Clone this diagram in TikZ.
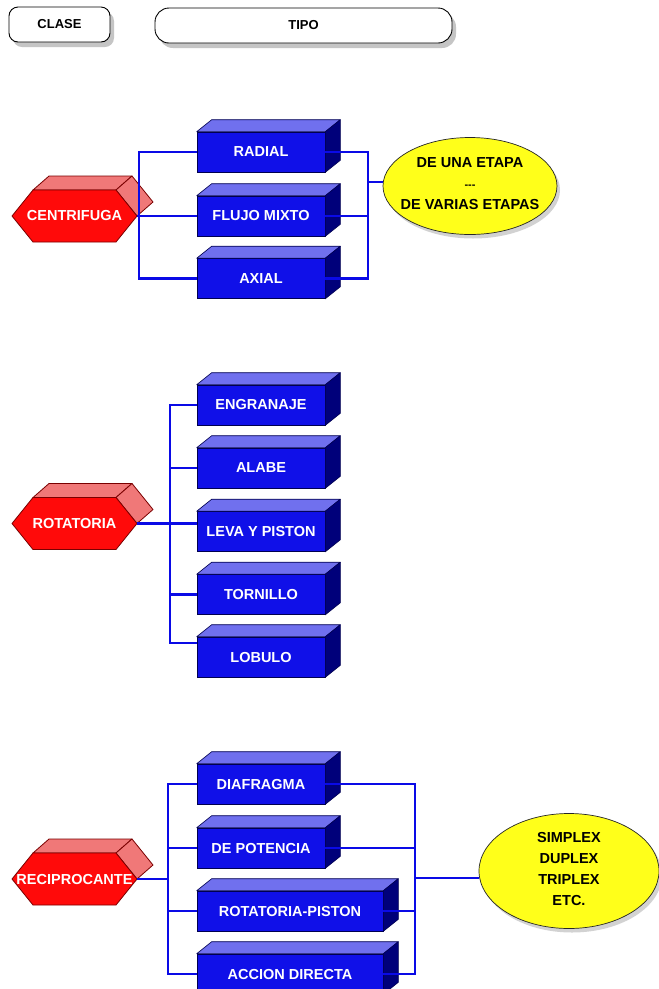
\documentclass[tikz,border=0pt]{standalone}
\usepackage{fontspec}
\setmainfont{Liberation Sans}
\usetikzlibrary{calc,shapes.geometric,shadows}
\definecolor{boxfront}{HTML}{1010E8}
\definecolor{boxtop}{HTML}{7070EE}
\definecolor{boxside}{HTML}{00007A}
\definecolor{boxline}{HTML}{000050}
\definecolor{hexfrontc}{HTML}{FF0A0A}
\definecolor{hexlight}{HTML}{F07878}
\definecolor{hexline}{HTML}{7A0000}
\definecolor{linkblue}{HTML}{0A0AE6}
\definecolor{ellfill}{HTML}{FFFF1A}
\newcommand\threedbox[1]{%
  \filldraw[boxtopface] (#1.north west) -- ($(#1.north west)+(15,-12)$) -- ($(#1.north east)+(15,-12)$) -- (#1.north east) -- cycle;
  \filldraw[boxsideface] (#1.north east) -- ($(#1.north east)+(15,-12)$) -- ($(#1.south east)+(15,-12)$) -- (#1.south east) -- cycle;}
\newcommand\redhex[3]{%
  \coordinate (#1-c) at (#2);
  \filldraw[hexface] ($(#1-c)+(-41.5,-26)$) -- ($(#1-c)+(-25.5,-40)$) -- ($(#1-c)+(57.5,-40)$) -- ($(#1-c)+(41.5,-26)$) -- cycle;
  \filldraw[hexface] ($(#1-c)+(41.5,-26)$) -- ($(#1-c)+(57.5,-40)$) -- ($(#1-c)+(78.5,-14)$) -- ($(#1-c)+(62.5,0)$) -- cycle;
  \filldraw[hexfront] ($(#1-c)+(-62.5,0)$) -- ($(#1-c)+(-41.5,-26)$) -- ($(#1-c)+(41.5,-26)$) -- ($(#1-c)+(62.5,0)$) -- ($(#1-c)+(41.5,26)$) -- ($(#1-c)+(-41.5,26)$) -- cycle;
  \node[hextext] (#1) at (#1-c) {#3};
  \coordinate (#1-e) at ($(#1-c)+(62.5,0)$);}
\tikzset{
  bluebox/.style={rectangle, fill=boxfront, draw=boxline, line width=0.6pt, text=white,
    font=\fontsize{14.5}{17}\selectfont\bfseries, minimum width=128pt, minimum height=40pt, inner sep=0pt},
  widebox/.style={bluebox, minimum width=186pt},
  boxtopface/.style={fill=boxtop, draw=boxline, line width=0.6pt, line join=round},
  boxsideface/.style={fill=boxside, draw=boxline, line width=0.6pt, line join=round},
  hexface/.style={fill=hexlight, draw=hexline, line width=0.8pt, line join=round},
  hexfront/.style={fill=hexfrontc, draw=hexline, line width=0.8pt, line join=round},
  hextext/.style={text=white, font=\fontsize{14.5}{17}\selectfont\bfseries, inner sep=0pt},
  link/.style={draw=linkblue, line width=2.3pt},
  ell/.style={ellipse, fill=ellfill, draw=black!85, line width=0.7pt, inner sep=0pt,
    drop shadow={shadow xshift=3pt, shadow yshift=-4pt, fill=black!35}},
  elltext/.style={align=center, font=\fontsize{14.5}{21}\selectfont\bfseries, inner sep=0pt},
  hdr/.style={rectangle, draw=black, line width=0.9pt, fill=white, minimum height=35pt,
    font=\fontsize{13}{15}\selectfont\bfseries,
    drop shadow={shadow xshift=4pt, shadow yshift=-5pt, fill=black!45}}
}
\begin{document}
\begin{tikzpicture}[x=1pt, y=-1pt]
\useasboundingbox (0,0) rectangle (659,989);
\fill[white] (0,0) rectangle (659,989);

% header
\node[hdr, minimum width=101pt, rounded corners=9pt] (clase) at (59.5,24.5) {CLASE};
\node[hdr, minimum width=297pt, rounded corners=14pt] (tipo) at (303.5,25.5) {TIPO};

% ---------- CENTRIFUGA ----------
\node[bluebox] (radial) at (261,152) {RADIAL}; \threedbox{radial}
\node[bluebox] (flujo) at (261,216) {FLUJO MIXTO}; \threedbox{flujo}
\node[bluebox] (axial) at (261,278.5) {AXIAL}; \threedbox{axial}
\redhex{cen}{74.5,216}{CENTRIFUGA}
\node[ell, minimum width=174pt, minimum height=97pt] (e1) at (470,186) {};
\node[elltext] (e1t) at (470,184) {DE UNA ETAPA\\{\fontsize{11}{11}\selectfont -{}-{}-}\\DE VARIAS ETAPAS};

\coordinate (cj) at (139,216);
\coordinate (cr) at (368,182);
\draw[link] (cen-e) -- (flujo.west);
\draw[link] (radial.west) -| (cj) |- (axial.west);
\draw[link] (radial.east) -| (cr) |- (axial.east);
\draw[link] (flujo.east) -- (flujo.east -| cr);
\draw[link] (cr) -- (cr -| e1.west);

% ---------- ROTATORIA ----------
\node[bluebox] (engr) at (261,405) {ENGRANAJE}; \threedbox{engr}
\node[bluebox] (alabe) at (261,468) {ALABE}; \threedbox{alabe}
\node[bluebox] (leva) at (261,531.5) {LEVA Y PISTON}; \threedbox{leva}
\node[bluebox] (torn) at (261,594.5) {TORNILLO}; \threedbox{torn}
\node[bluebox] (lobulo) at (261,657) {LOBULO}; \threedbox{lobulo}
\redhex{rot}{74.5,523.5}{ROTATORIA}

\coordinate (rj) at (170,524);
\coordinate (lobc) at ($(lobulo.west)+(0,-14)$);
\draw[link] (rot-e) -- (rot-e -| leva.west);
\draw[link] (engr.west) -| (rj) |- (lobc);
\draw[link] (alabe.west) -- (alabe.west -| rj);
\draw[link] (torn.west) -- (torn.west -| rj);

% ---------- RECIPROCANTE ----------
\node[bluebox] (diaf) at (261,784) {DIAFRAGMA}; \threedbox{diaf}
\node[bluebox] (pot) at (261,848) {DE POTENCIA}; \threedbox{pot}
\node[widebox] (rpist) at (290,911) {ROTATORIA-PISTON}; \threedbox{rpist}
\node[widebox] (accion) at (290,974) {ACCION DIRECTA}; \threedbox{accion}
\redhex{rec}{74.5,879}{RECIPROCANTE}
\node[ell, minimum width=180pt, minimum height=115pt] (e2) at (569,871) {};
\node[elltext, font=\fontsize{14.5}{20.7}\selectfont\bfseries] (e2t) at (569,869) {SIMPLEX\\DUPLEX\\TRIPLEX\\ETC.};

\coordinate (pj) at (168,879);
\coordinate (pr) at (415,878);
\draw[link] (rec-e) -- (pj);
\draw[link] (diaf.west) -| (pj) |- (accion.west);
\draw[link] (pot.west) -- (pot.west -| pj);
\draw[link] (rpist.west) -- (rpist.west -| pj);
\draw[link] (diaf.east) -| (pr) |- (accion.east);
\draw[link] (pot.east) -- (pot.east -| pr);
\draw[link] (rpist.east) -- (rpist.east -| pr);
\draw[link] (pr) -- (pr -| e2.west);
\end{tikzpicture}
\end{document}
